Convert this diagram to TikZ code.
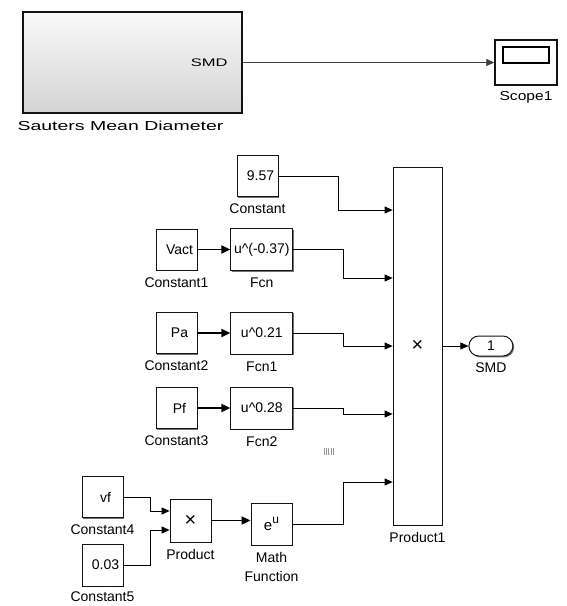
\documentclass[tikz,border=0pt]{standalone}
\usepackage{fontspec}
\setmainfont{Liberation Sans}
\usepackage{graphicx}
\usepackage{xcolor}
\definecolor{blockedge}{RGB}{20, 20, 20}
\definecolor{subtop}{RGB}{250, 250, 250}
\definecolor{subbottom}{RGB}{212, 212, 212}
\definecolor{grip}{RGB}{150, 150, 150}
\usetikzlibrary{arrows.meta,positioning,shadows,calc}
\newcommand{\wideText}[2]{\scalebox{#1}[1]{#2}}
\newcommand{\mulSign}{{\fontsize{20}{20}\selectfont ×}}

\begin{document}
\begin{tikzpicture}[
  x=1pt, y=-1pt,
  font=\fontsize{14}{19}\selectfont,
  block/.style={draw=blockedge, fill=white, line width=0.8pt, inner sep=0pt, minimum width=41pt, minimum height=41pt, drop shadow={shadow xshift=1.3pt, shadow yshift=-1.3pt, fill=black!55, opacity=1}},
  constblock/.style={block, execute at begin node={\hspace*{6pt}}},
  fcnblock/.style={block, minimum width=62pt, minimum height=42pt},
  lbl/.style={inner sep=0pt, anchor=north},
  sig/.style={-{Triangle[length=8pt,width=7pt]}, line width=0.8pt},
  bus/.style={-{Triangle[length=9pt,width=8pt]}, line width=1.8pt}
]
\useasboundingbox (0,0) rectangle (566,606);

% subsystem and scope
\node[block, shading=axis, top color=subtop, bottom color=subbottom, line width=1.6pt, minimum width=219pt, minimum height=101pt] (sauter) at (132.5,62.5) {};
\node[anchor=east, inner sep=0pt] (sauterout) at ([xshift=-15pt]sauter.east) {\wideText{1.5}{\fontsize{11}{11}\selectfont SMD}};
\node[lbl, below=7pt of sauter, xshift=-12pt] (sauterlbl) {\wideText{1.5}{\fontsize{13}{13}\selectfont Sauters Mean Diameter}};
\node[block, line width=1.4pt, minimum width=62pt, minimum height=45pt] (scope) at (526,62.5) {};
\node[draw, line width=1.2pt, minimum width=46pt, minimum height=16pt, inner sep=0pt] (screen) at ([yshift=7.5pt]scope.center) {};
\node[lbl, below=6pt of scope] (scopelbl) {\wideText{1.2}{\fontsize{13}{13}\selectfont Scope1}};
\draw[sig, draw=black!75] (sauter.east) -- (scope.west);

% SMD model
\node[constblock] (c0) at (257.5,176) {9.57};
\node[lbl, below=7pt of c0] (c0lbl) {Constant};

\node[constblock] (c1) at (176.5,249.5) {Vact};
\node[fcnblock, right=33pt of c1] (fcn) {u\textasciicircum(-0.37)};
\node[lbl, below=7pt of c1] (c1lbl) {Constant1};
\node[lbl, below=7pt of fcn] (fcnlbl) {Fcn};

\node[constblock] (c2) at (176.5,333) {Pa};
\node[fcnblock, right=33pt of c2] (fcn1) {u\textasciicircum 0.21};
\node[lbl, below=7pt of c2] (c2lbl) {Constant2};
\node[lbl, below=7pt of fcn1] (fcn1lbl) {Fcn1};

\node[constblock] (c3) at (176.5,408) {Pf};
\node[fcnblock, right=33pt of c3] (fcn2) {u\textasciicircum 0.28};
\node[lbl, below=7pt of c3] (c3lbl) {Constant3};
\node[lbl, below=7pt of fcn2] (fcn2lbl) {Fcn2};

\node[constblock] (c4) at (102.5,497) {vf};
\node[lbl, below=7pt of c4] (c4lbl) {Constant4};
\node[constblock, minimum height=42pt] (c5) at (102.5,565) {0.03};
\node[lbl, below=5pt of c5] (c5lbl) {Constant5};
\node[block, minimum height=43pt] (prod) at (190.5,520.5) {\mulSign};
\node[lbl, below=7pt of prod] (prodlbl) {Product};
\node[block, minimum height=42pt] (mathfcn) at (271.5,524) {\fontsize{15}{15}\selectfont e\raisebox{0.5em}{\fontsize{12}{12}\selectfont u}};
\node[lbl, below=7pt of mathfcn, align=center] (mathlbl) {Math\\Function};

\node[block, minimum width=49pt, minimum height=358pt] (prod1) at (417.5,346) {\mulSign};
\node[lbl, below=7pt of prod1] (prod1lbl) {Product1};
\node[block, line width=1pt, rounded corners=10pt, minimum width=44pt, minimum height=20pt, right=26pt of prod1] (smd) {1};
\node[lbl, below=6pt of smd] (smdlbl) {SMD};

% input ports
\foreach \k/\dy in {1/136,2/68,3/0,4/-68,5/-136}
  \coordinate (in\k) at ([yshift=\dy pt]prod1.west);
\coordinate (pin1) at ([yshift=9.5pt]prod.west);
\coordinate (pin2) at ([yshift=-9.5pt]prod.west);

\draw[sig] (c0.east) -- ++(60,0) |- (in1);
\draw[sig] (fcn.east) -- ++(50,0) |- (in2);
\draw[sig] (fcn1.east) -- ++(50,0) |- (in3);
\draw[sig] (fcn2.east) -- ++(50,0) |- (in4);
\draw[sig] (mathfcn.east) -- ++(51,0) |- (in5);
\draw[sig] (prod1.east) -- (smd.west);
\draw[bus] (c1) -- (fcn);
\draw[bus] (c2) -- (fcn1);
\draw[bus] (c3) -- (fcn2);
\draw[sig] (c4.east) -- ++(27,0) |- (pin1);
\draw[sig] (c5.east) -- ++(27,0) |- (pin2);
\draw[bus] (prod) -- (prod -| mathfcn.west);

% grip mark
\foreach \gx in {324,326,328,331,333}
  \fill[grip] (\gx,448) rectangle ++(1,7);
\end{tikzpicture}
\end{document}
